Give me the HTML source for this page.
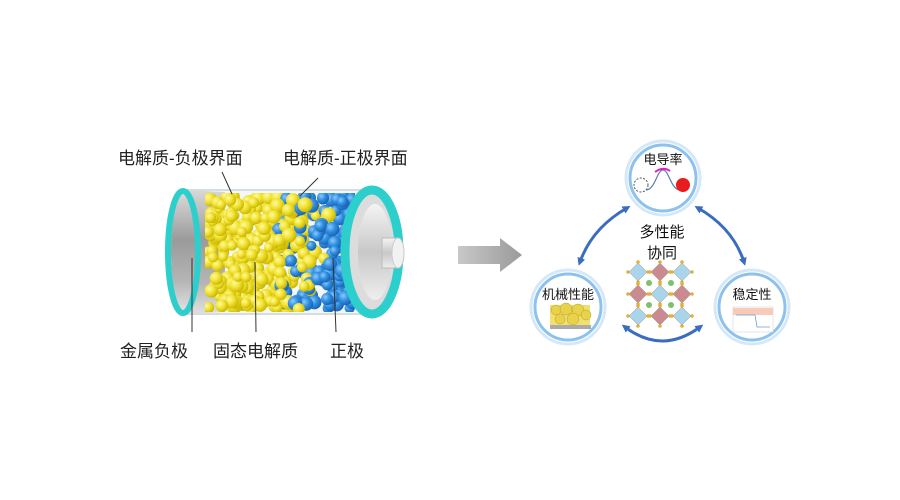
<!DOCTYPE html>
<html><head><meta charset="utf-8"><style>
html,body{margin:0;padding:0;background:#fff;width:900px;height:500px;overflow:hidden}
text{font-family:"Liberation Sans","Noto Sans CJK SC",sans-serif}
</style></head><body>
<svg id="s" width="900" height="500" viewBox="0 0 900 500" xmlns="http://www.w3.org/2000/svg">
<defs>
<linearGradient id="metal" x1="0" y1="0" x2="0" y2="1">
<stop offset="0" stop-color="#d8d8d8"/><stop offset="0.4" stop-color="#9a9a9a"/><stop offset="0.75" stop-color="#b5b5b5"/><stop offset="1" stop-color="#e0e0e0"/></linearGradient>
<linearGradient id="cap" x1="0" y1="0" x2="0" y2="1">
<stop offset="0" stop-color="#f4f4f4"/><stop offset="0.5" stop-color="#c8c8c8"/><stop offset="1" stop-color="#eeeeee"/></linearGradient>
<radialGradient id="yb" cx="0.35" cy="0.35" r="0.7"><stop offset="0" stop-color="#fffaa0"/><stop offset="0.5" stop-color="#f1e130"/><stop offset="1" stop-color="#c7b400"/></radialGradient>
<radialGradient id="bb" cx="0.35" cy="0.35" r="0.7"><stop offset="0" stop-color="#8cc8ff"/><stop offset="0.5" stop-color="#2f8fe0"/><stop offset="1" stop-color="#1a5fb0"/></radialGradient>
<linearGradient id="garr" x1="0" y1="0" x2="1" y2="0"><stop offset="0" stop-color="#c8c8c8"/><stop offset="1" stop-color="#9a9a9a"/></linearGradient>
<clipPath id="bc"><rect x="205" y="193" width="150" height="119"/></clipPath>
<marker id="ah" markerWidth="8" markerHeight="8" refX="4" refY="4" orient="auto-start-reverse" markerUnits="userSpaceOnUse"><path d="M0,0 L8,4 L0,8 z" fill="#3a6cc0"/></marker>
</defs>
<path d="M183,190 L372,190 L372,314 L183,314 z" fill="#eef3f5" opacity="0.7"/>
<path d="M183,190 L225,192 L225,312 L183,314 z" fill="url(#metal)"/>
<g id="parts" clip-path="url(#bc)"></g>
<path d="M183,190 L372,190" stroke="#d6dde0" stroke-width="2"/>
<path d="M183,314 L372,314" stroke="#d6dde0" stroke-width="2"/>
<ellipse cx="183" cy="252" rx="12" ry="58" fill="url(#metal)"/>
<ellipse cx="183" cy="252" rx="15" ry="61" fill="none" stroke="#2ccfcc" stroke-width="6"/>
<ellipse cx="372" cy="252" rx="27" ry="62" fill="#dcdcdc" stroke="#2ccfcc" stroke-width="9"/>
<ellipse cx="375" cy="252" rx="17" ry="48" fill="url(#cap)"/>
<path d="M382,238 L398,238 A6,15 0 0 1 398,268 L382,268 z" fill="url(#cap)" stroke="#bbb"/>
<ellipse cx="398" cy="253" rx="6" ry="15" fill="#f2f2f2" stroke="#ccc"/>
<g stroke="#333" stroke-width="1" fill="none">
<line x1="222" y1="172" x2="232" y2="194"/>
<line x1="318" y1="178" x2="300" y2="196"/>
<line x1="192" y1="258" x2="192" y2="332"/>
<line x1="255" y1="262" x2="256" y2="332"/>
<line x1="333" y1="258" x2="336" y2="332"/>
</g>
<g font-size="17" fill="#222">
<text x="118" y="164">电解质-负极界面</text>
<text x="283" y="164">电解质-正极界面</text>
<text x="120" y="357">金属负极</text>
<text x="213" y="357">固态电解质</text>
<text x="330" y="357">正极</text>
</g>
<path d="M458,246 L500,246 L500,238 L522,255 L500,272 L500,264 L458,264 z" fill="url(#garr)"/>
<g fill="#fff" stroke="#8ec2ee" stroke-width="3">
<circle cx="663" cy="178" r="33"/>
<circle cx="568" cy="307" r="33"/>
<circle cx="752" cy="307" r="33"/>
</g>
<g fill="none" stroke="#d4e8f8" stroke-width="3">
<circle cx="663" cy="178" r="37"/><circle cx="568" cy="307" r="37"/><circle cx="752" cy="307" r="37"/>
</g>
<circle cx="641" cy="185" r="7" fill="none" stroke="#555" stroke-dasharray="2,1.5"/>
<path d="M646,190 C655,190 657,170 663,170 C669,170 671,190 680,190" fill="none" stroke="#5a7fa8" stroke-width="1.2"/>
<path d="M655,172 Q663,166 670,171" fill="none" stroke="#e020c0" stroke-width="2"/>
<circle cx="683" cy="185" r="7" fill="#e81c1c"/>
<g font-size="13" fill="#111">
<text x="663" y="164" text-anchor="middle">电导率</text>
<text x="568" y="299" text-anchor="middle">机械性能</text>
<text x="752" y="299" text-anchor="middle">稳定性</text>
</g>
<g font-size="15" fill="#111" text-anchor="middle">
<text x="662" y="237">多性能</text>
<text x="662" y="258">协同</text>
</g>
<rect x="550" y="305" width="40" height="20" fill="#efe070"/>
<g fill="#e8d24a" stroke="#b8a030" stroke-width="0.5">
<circle cx="556" cy="310" r="5"/><circle cx="566" cy="309" r="6"/><circle cx="578" cy="310" r="6"/><circle cx="586" cy="315" r="5"/><circle cx="560" cy="319" r="5"/><circle cx="573" cy="319" r="6"/></g>
<rect x="550" y="325" width="41" height="4" fill="#aaa"/>
<rect x="733" y="307" width="40" height="25" fill="#fff" stroke="#ccc" stroke-width="0.5"/>
<rect x="733" y="308" width="40" height="7" fill="#f7cbb8"/>
<path d="M736,315 L755,315 L757,327 L770,327" fill="none" stroke="#6ea0d0" stroke-width="0.8"/>
<g id="crys"></g>
<g fill="none" stroke="#3a6cc0" stroke-width="3">
<path d="M627,208 Q592,228 580,262" marker-start="url(#ah)" marker-end="url(#ah)"/>
<path d="M698,208 Q733,228 744,262" marker-start="url(#ah)" marker-end="url(#ah)"/>
<path d="M625,327 Q662,355 700,327" marker-start="url(#ah)" marker-end="url(#ah)"/>
</g>
</svg>
<script>
var ns="http://www.w3.org/2000/svg",g=document.getElementById("parts");
var seed=7;function r(){seed=(seed*9301+49297)%233280;return seed/233280;}
function c(p,x,y,rad,f){var e=document.createElementNS(ns,"circle");e.setAttribute("cx",x);e.setAttribute("cy",y);e.setAttribute("r",rad);e.setAttribute("fill",f);p.appendChild(e);}
for(var i=0;i<420;i++){var x=208+r()*145,y=196+r()*114;var t=(x-208)/145;var blue=r()<(t<0.45?0:(t-0.4)*2.0);c(g,x,y,5+r()*2.5,blue?"url(#bb)":"url(#yb)");}
var cg=document.getElementById("crys");
for(var a=0;a<3;a++)for(var b=0;b<3;b++){var cx=638+a*22,cy=272+b*22;var red=(a+b)%2==1;var p=document.createElementNS(ns,"path");p.setAttribute("d","M"+cx+","+(cy-9)+" L"+(cx+9)+","+cy+" L"+cx+","+(cy+9)+" L"+(cx-9)+","+cy+" z");p.setAttribute("fill",red?"#c98a90":"#a9d4ea");p.setAttribute("stroke","#888");p.setAttribute("stroke-width","0.4");cg.appendChild(p);c(cg,cx,cy-10,1.8,"#e0b040");c(cg,cx+10,cy,1.8,"#e0b040");c(cg,cx,cy+10,1.8,"#e0b040");c(cg,cx-10,cy,1.8,"#e0b040");}
for(var a=0;a<2;a++)for(var b=0;b<2;b++){c(cg,649+a*22,283+b*22,3,"#7cc070");}
</script>
</body></html>
